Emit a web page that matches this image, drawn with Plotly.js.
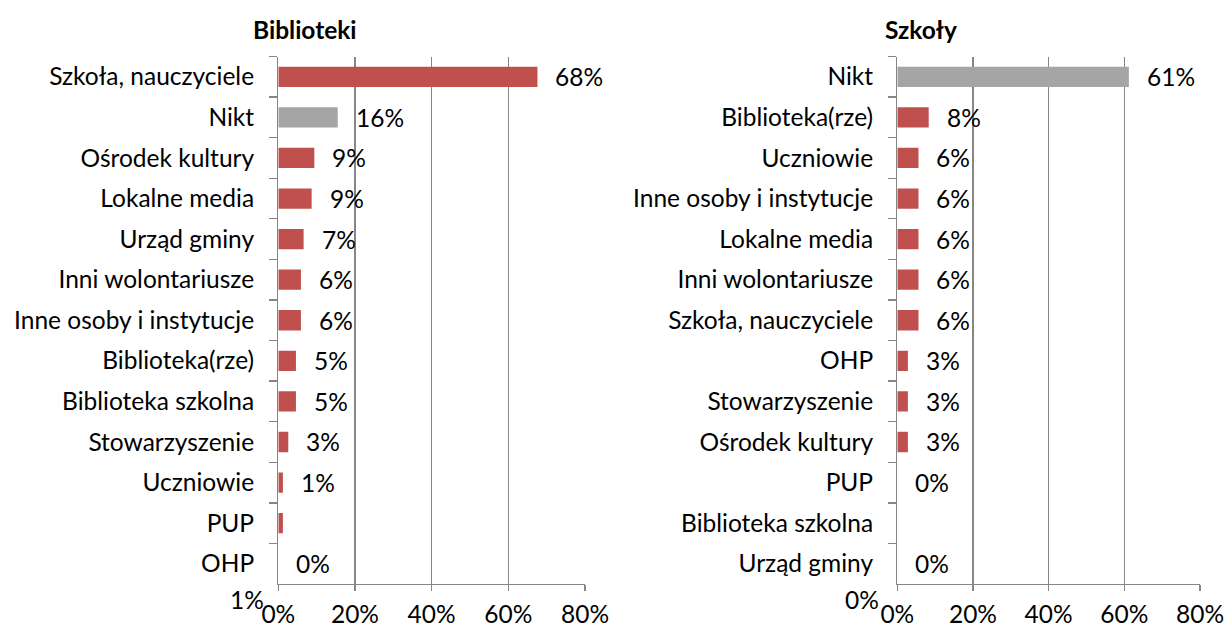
<!DOCTYPE html>
<html>
<head>
<meta charset="utf-8">
<script src="https://cdn.plot.ly/plotly-3.0.1.min.js"></script>
<style>html,body{margin:0;padding:0;background:#fff;}#chart{width:1226px;height:628px;}</style>
</head>
<body>
<div id="chart"></div>
<script>
// ---- Data ----
const leftTitle = 'Biblioteki';
const rightTitle = 'Szkoły';

const leftCategories = ['Szkoła, nauczyciele','Nikt','Ośrodek kultury','Lokalne media','Urząd gminy','Inni wolontariusze','Inne osoby i instytucje','Biblioteka(rze)','Biblioteka szkolna','Stowarzyszenie','Uczniowie','PUP','OHP'];
const leftValues = [67.6, 15.5, 9.4, 8.7, 6.6, 5.9, 5.9, 4.6, 4.6, 2.6, 1.2, 1.2, 0];
const leftLabels = ['68%','16%','9%','9%','7%','6%','6%','5%','5%','3%','1%','','0%'];
const leftStrayLabel = '1%';

const rightCategories = ['Nikt','Biblioteka(rze)','Uczniowie','Inne osoby i instytucje','Lokalne media','Inni wolontariusze','Szkoła, nauczyciele','OHP','Stowarzyszenie','Ośrodek kultury','PUP','Biblioteka szkolna','Urząd gminy'];
const rightValues = [61.2, 8.3, 5.6, 5.6, 5.6, 5.6, 5.6, 2.8, 2.8, 2.8, 0, 0, 0];
const rightLabels = ['61%','8%','6%','6%','6%','6%','6%','3%','3%','3%','0%','','0%'];
const rightStrayLabel = '0%';

const xTickVals = [0, 20, 40, 60, 80];
const xTickText = ['0%', '20%', '40%', '60%', '80%'];

// ---- Style ----
const RED = '#C0504D', GRAY = '#A5A5A5', LINE = '#868686';
const FONT = 'Lato, "Open Sans", sans-serif';
const FS = 24.5;

function colorsFor(cats){ return cats.map(c => c === 'Nikt' ? GRAY : RED); }

const traces = [
  {type:'bar', orientation:'h', y:leftCategories, x:leftValues, xaxis:'x', yaxis:'y',
   marker:{color:colorsFor(leftCategories)}, width:0.5, hoverinfo:'x+y'},
  {type:'bar', orientation:'h', y:rightCategories, x:rightValues, xaxis:'x2', yaxis:'y2',
   marker:{color:colorsFor(rightCategories)}, width:0.5, hoverinfo:'x+y'}
];

const W = 1226, H = 628;
const yDom = [(H-584)/H, (H-56.5)/H];

function xAxis(domain, anchor){
  return {domain:domain, anchor:anchor, range:[0,80], tickmode:'array', tickvals:xTickVals, ticktext:xTickText,
    showgrid:true, gridcolor:LINE, gridwidth:1.3, zeroline:false,
    showline:true, linecolor:LINE, linewidth:1.3, ticks:'outside', ticklen:6, tickcolor:LINE, tickwidth:1.3,
    ticklabelstandoff:2, tickfont:{family:FONT, size:FS, color:'#000'}, fixedrange:true};
}
function yAxis(anchor, cats){
  return {domain:yDom, anchor:anchor, type:'category', categoryorder:'array', categoryarray:cats,
    autorange:'reversed', showgrid:false, zeroline:false,
    showline:true, linecolor:LINE, linewidth:1.3, ticks:'outside', tickson:'boundaries', ticklen:8, tickcolor:LINE, tickwidth:1.3,
    ticklabelstandoff:18, tickfont:{family:FONT, size:FS, color:'#000'}, fixedrange:true};
}

const annotations = [];
function addLabels(cats, vals, labels, xref, yref){
  cats.forEach((c,i)=>{
    if(!labels[i]) return;
    annotations.push({xref:xref, yref:yref, x:vals[i], y:c, text:labels[i], showarrow:false,
      xanchor:'left', yanchor:'middle', xshift:16, font:{family:FONT, size:FS, color:'#000'}});
  });
}
addLabels(leftCategories, leftValues, leftLabels, 'x', 'y');
addLabels(rightCategories, rightValues, rightLabels, 'x2', 'y2');

annotations.push({xref:'x', yref:'paper', x:0, y:(H-599)/H, text:leftStrayLabel, showarrow:false,
  xanchor:'right', yanchor:'middle', xshift:-12, font:{family:FONT, size:FS, color:'#000'}});
annotations.push({xref:'x2', yref:'paper', x:0, y:(H-599)/H, text:rightStrayLabel, showarrow:false,
  xanchor:'right', yanchor:'middle', xshift:-16, font:{family:FONT, size:FS, color:'#000'}});

annotations.push({xref:'paper', yref:'paper', x:304.5/W, y:(H-30)/H, text:'<b>'+leftTitle+'</b>', showarrow:false,
  xanchor:'center', yanchor:'middle', font:{family:FONT, size:FS, color:'#000'}});
annotations.push({xref:'paper', yref:'paper', x:921/W, y:(H-30)/H, text:'<b>'+rightTitle+'</b>', showarrow:false,
  xanchor:'center', yanchor:'middle', font:{family:FONT, size:FS, color:'#000'}});

const layout = {
  width:W, height:H, margin:{l:0,r:0,t:0,b:0},
  paper_bgcolor:'#fff', plot_bgcolor:'#fff', showlegend:false, bargap:0.5,
  font:{family:FONT, size:FS, color:'#000'},
  xaxis: xAxis([278.3/W, 585/W], 'y'),
  yaxis: yAxis('x', leftCategories),
  xaxis2: xAxis([897.3/W, 1200/W], 'y2'),
  yaxis2: yAxis('x2', rightCategories),
  annotations: annotations
};

Plotly.newPlot('chart', traces, layout, {displayModeBar:false, staticPlot:true});
</script>
</body>
</html>
